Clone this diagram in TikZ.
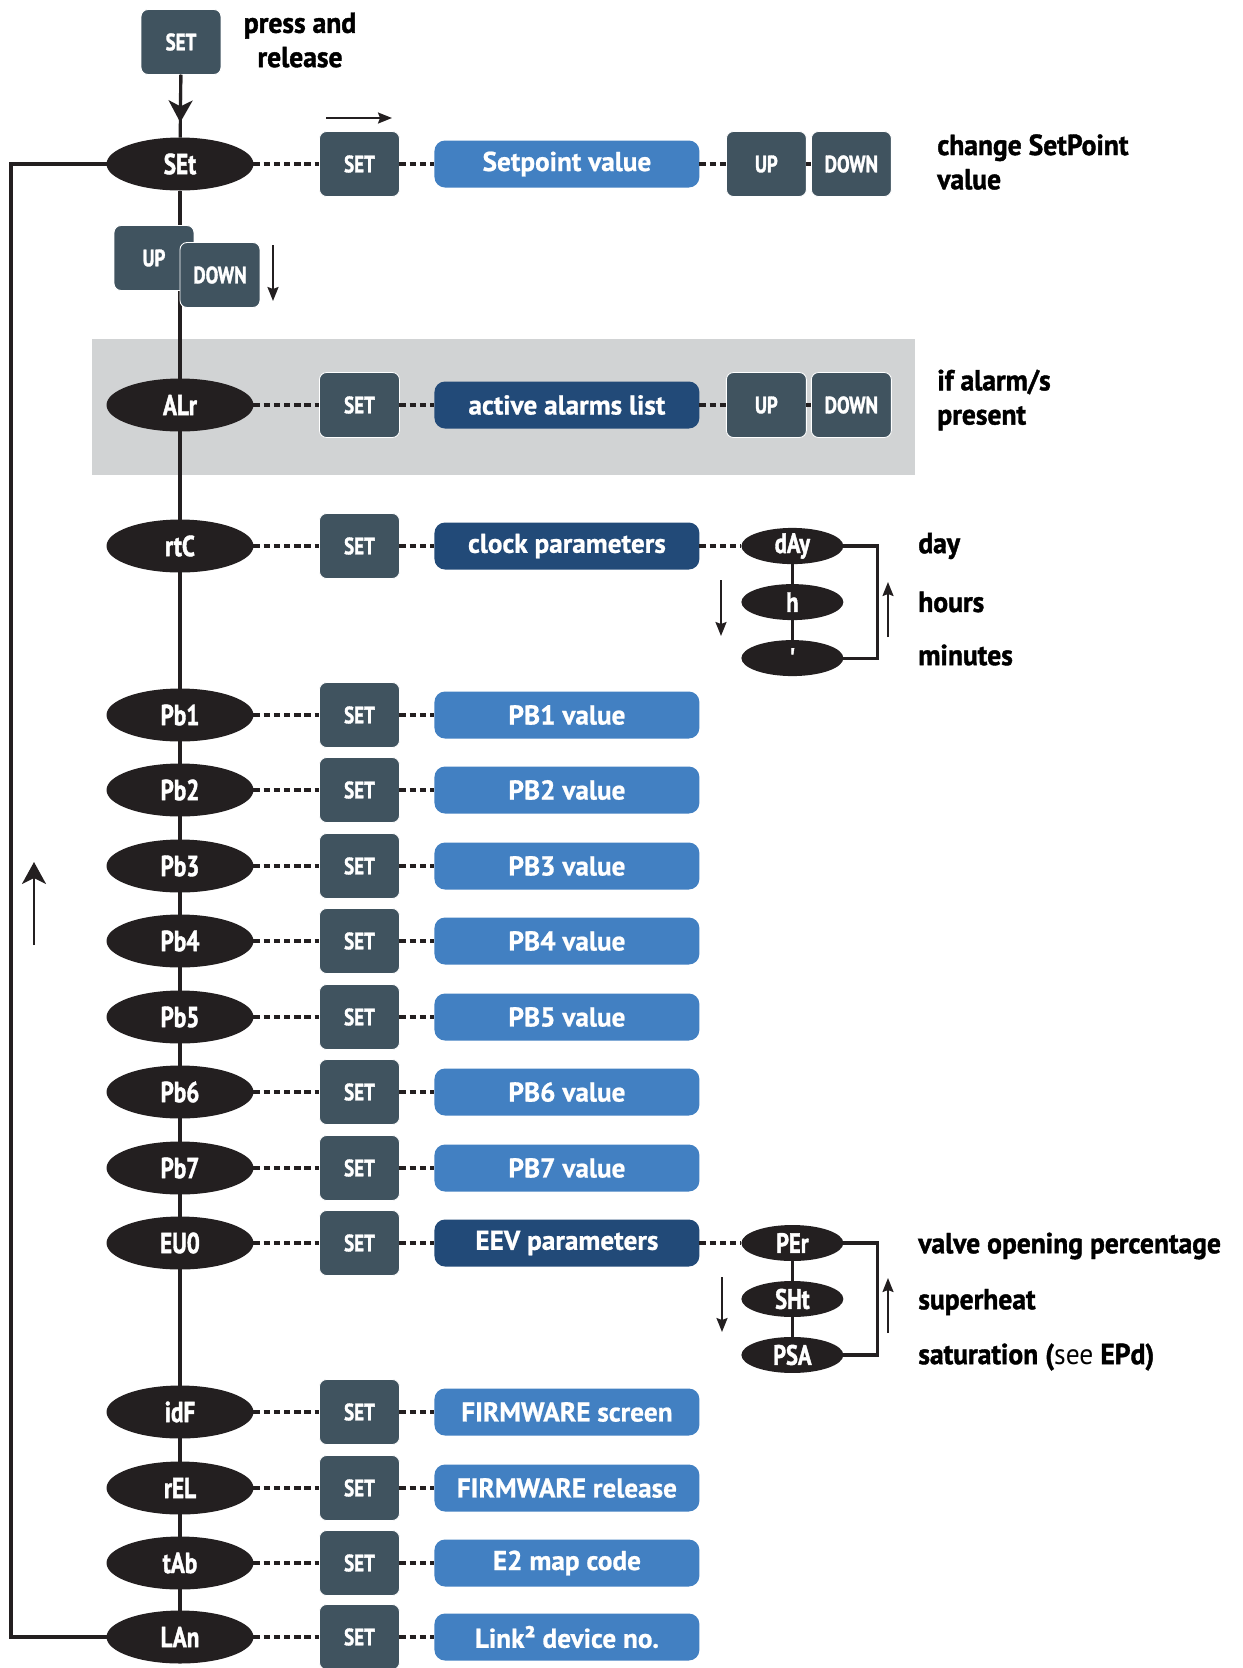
\documentclass[tikz,border=0pt]{standalone}
\usepackage{fontspec}
\setmainfont{PT Sans}
\newfontfamily\condf{PT Sans}[UprightFont=* Bold, FakeStretch=0.8, FakeBold=1.4]
\newfontfamily\notef{PT Sans}[UprightFont=* Bold, FakeStretch=0.95, FakeBold=1.4]
\newfontfamily\notelight{PT Sans}[FakeStretch=0.95]
\newfontfamily\valf{PT Sans}[UprightFont=* Bold, FakeBold=0.8]
\usetikzlibrary{arrows.meta,positioning,shapes.geometric,calc,backgrounds}
\definecolor{ink}{HTML}{231F20}
\definecolor{keygray}{HTML}{40535F}
\definecolor{valblue}{HTML}{4280C2}
\definecolor{valnavy}{HTML}{224A78}
\definecolor{band}{HTML}{D1D3D4}
\tikzset{
  menu/.style={ellipse, fill=ink, text=white, minimum width=2.94cm, minimum height=1.06cm,
               inner sep=0pt, outer sep=0pt, font=\condf\fontsize{16.5}{18}\selectfont},
  sub/.style={menu, minimum width=2.04cm, minimum height=0.72cm,
              font=\condf\fontsize{16}{18}\selectfont},
  keybtn/.style={draw=white, line width=0.5pt, rounded corners=4pt, fill=keygray, text=white,
                 minimum width=1.6cm, minimum height=1.3cm, inner sep=0pt, outer sep=0pt,
                 font=\condf\fontsize{13.5}{15}\selectfont},
  val/.style={rounded corners=6pt, fill=valblue, text=white, minimum width=5.3cm,
              minimum height=0.94cm, inner sep=0pt, outer sep=0pt,
              font=\valf\fontsize{15.5}{17}\selectfont},
  valdk/.style={val, fill=valnavy},
  note/.style={anchor=west, inner sep=0pt, align=left,
               font=\notef\fontsize{16.5}{19.5}\selectfont},
  dots/.style={draw=ink, line width=1.9pt, dash pattern=on 3.6pt off 2.2pt},
  link/.style={draw=ink, line width=1.8pt},
  hint/.style={draw=ink, line width=1.1pt, -{Stealth[length=2.8mm, width=2.2mm, inset=0.4mm]}},
  bighint/.style={draw=ink, line width=1.6pt, -{Stealth[length=4.4mm, width=4.8mm, inset=1.2mm]}}
}

\begin{document}
\begin{tikzpicture}[x=0.02cm, y=-0.02cm]
  \useasboundingbox (0,0) rectangle (1242,1668);

  %% entry
  \node[keybtn] (press) at (181,42) {SET};
  \node[note, anchor=center, align=center] (presstxt) at (300,40) {press and\\release};

  %% main menu column
  \node[menu] (set) at (180,164) {SEt};
  \node[menu] (alr) at (180,405) {ALr};
  \node[menu] (rtc) at (180,546) {rtC};
  \node[menu] (pb1) at (180,715) {Pb1};
  \node[menu] (pb2) at (180,790) {Pb2};
  \node[menu] (pb3) at (180,866) {Pb3};
  \node[menu] (pb4) at (180,941) {Pb4};
  \node[menu] (pb5) at (180,1017) {Pb5};
  \node[menu] (pb6) at (180,1092) {Pb6};
  \node[menu] (pb7) at (180,1168) {Pb7};
  \node[menu] (eu0) at (180,1243) {EU0};
  \node[menu] (idf) at (180,1412) {idF};
  \node[menu] (rel) at (180,1488) {rEL};
  \node[menu] (tab) at (180,1563) {tAb};
  \node[menu] (lan) at (180,1637) {LAn};

  \node[keybtn] (upm) at (154,258) {UP};
  \node[keybtn] (dnm) at (220,275) {DOWN};

  %% SEt row
  \node[keybtn, right=1.32cm of set] (kset) {SET};
  \node[val, right=0.7cm of kset] (vset) {Setpoint value};
  \node[keybtn, right=0.54cm of vset] (upset) {UP};
  \node[keybtn, right=0.1cm of upset] (dnset) {DOWN};
  \node[note] (chg) at (937,162) {change SetPoint\\value};

  %% ALr row
  \node[keybtn, right=1.32cm of alr] (kalr) {SET};
  \node[valdk, right=0.7cm of kalr] (valr) {active alarms list};
  \node[keybtn, right=0.54cm of valr] (upalr) {UP};
  \node[keybtn, right=0.1cm of upalr] (dnalr) {DOWN};
  \node[note] (alrtxt) at (937,400) {if alarm/s\\present};

  %% rtC row
  \node[keybtn, right=1.32cm of rtc] (krtc) {SET};
  \node[valdk, right=0.7cm of krtc] (vrtc) {clock parameters};
  \node[sub, right=0.84cm of vrtc] (day) {dAy};
  \node[sub, below=0.4cm of day] (hrs) {h};
  \node[sub, below=0.4cm of hrs] (mins) {'};
  \node[note] (daytxt) at (918,546) {day};
  \node[note] (hrstxt) at (918,602) {hours};
  \node[note] (minstxt) at (918,655) {minutes};

  %% probes
  \node[keybtn, right=1.32cm of pb1] (kpb1) {SET};
  \node[val, right=0.7cm of kpb1] (vpb1) {PB1 value};
  \node[keybtn, right=1.32cm of pb2] (kpb2) {SET};
  \node[val, right=0.7cm of kpb2] (vpb2) {PB2 value};
  \node[keybtn, right=1.32cm of pb3] (kpb3) {SET};
  \node[val, right=0.7cm of kpb3] (vpb3) {PB3 value};
  \node[keybtn, right=1.32cm of pb4] (kpb4) {SET};
  \node[val, right=0.7cm of kpb4] (vpb4) {PB4 value};
  \node[keybtn, right=1.32cm of pb5] (kpb5) {SET};
  \node[val, right=0.7cm of kpb5] (vpb5) {PB5 value};
  \node[keybtn, right=1.32cm of pb6] (kpb6) {SET};
  \node[val, right=0.7cm of kpb6] (vpb6) {PB6 value};
  \node[keybtn, right=1.32cm of pb7] (kpb7) {SET};
  \node[val, right=0.7cm of kpb7] (vpb7) {PB7 value};

  %% EU0 row
  \node[keybtn, right=1.32cm of eu0] (keu) {SET};
  \node[valdk, right=0.7cm of keu] (veu) {EEV parameters};
  \node[sub, right=0.84cm of veu] (per) {PEr};
  \node[sub, below=0.4cm of per] (sht) {SHt};
  \node[sub, below=0.4cm of sht] (psa) {PSA};
  \node[note] (pertxt) at (918,1246) {valve opening percentage};
  \node[note] (shttxt) at (918,1302) {superheat};
  \node[note] (psatxt) at (918,1357) {saturation ({\notelight see} EPd)};

  %% info rows
  \node[keybtn, right=1.32cm of idf] (kidf) {SET};
  \node[val, right=0.7cm of kidf] (vidf) {FIRMWARE screen};
  \node[keybtn, right=1.32cm of rel] (krel) {SET};
  \node[val, right=0.7cm of krel] (vrel) {FIRMWARE release};
  \node[keybtn, right=1.32cm of tab] (ktab) {SET};
  \node[val, right=0.7cm of ktab] (vtab) {E2 map code};
  \node[keybtn, right=1.32cm of lan] (klan) {SET};
  \node[val, right=0.7cm of klan] (vlan) {Link² device no.};

  %% band and spine behind
  \begin{scope}[on background layer]
    \fill[band] (92,339) rectangle (915,475);
    \draw[link] (set) -- (lan);
    \draw[link] (press) -- (set);
    \coordinate (back) at (11,1637);
    \draw[link] (lan.west) -- (back) |- (set.west);
  \end{scope}
  \draw[bighint] (press.south) -- ($(press.south)!0.76!(set.north)$);

  %% dotted links
  \draw[dots] (set) -- (kset);  \draw[dots] (kset) -- (vset);
  \draw[dots] (vset) -- (upset); \draw[dots] (upset) -- (dnset);
  \draw[dots] (alr) -- (kalr);  \draw[dots] (kalr) -- (valr);
  \draw[dots] (valr) -- (upalr); \draw[dots] (upalr) -- (dnalr);
  \draw[dots] (rtc) -- (krtc);  \draw[dots] (krtc) -- (vrtc); \draw[dots] (vrtc) -- (day);
  \draw[dots] (pb1) -- (kpb1);  \draw[dots] (kpb1) -- (vpb1);
  \draw[dots] (pb2) -- (kpb2);  \draw[dots] (kpb2) -- (vpb2);
  \draw[dots] (pb3) -- (kpb3);  \draw[dots] (kpb3) -- (vpb3);
  \draw[dots] (pb4) -- (kpb4);  \draw[dots] (kpb4) -- (vpb4);
  \draw[dots] (pb5) -- (kpb5);  \draw[dots] (kpb5) -- (vpb5);
  \draw[dots] (pb6) -- (kpb6);  \draw[dots] (kpb6) -- (vpb6);
  \draw[dots] (pb7) -- (kpb7);  \draw[dots] (kpb7) -- (vpb7);
  \draw[dots] (eu0) -- (keu);   \draw[dots] (keu) -- (veu);   \draw[dots] (veu) -- (per);
  \draw[dots] (idf) -- (kidf);  \draw[dots] (kidf) -- (vidf);
  \draw[dots] (rel) -- (krel);  \draw[dots] (krel) -- (vrel);
  \draw[dots] (tab) -- (ktab);  \draw[dots] (ktab) -- (vtab);
  \draw[dots] (lan) -- (klan);  \draw[dots] (klan) -- (vlan);

  %% sub-menu loops
  \draw[link] (day) -- (hrs) -- (mins);
  \draw[link] (day.east) -- ++(34,0) |- (mins.east);
  \draw[link] (per) -- (sht) -- (psa);
  \draw[link] (per.east) -- ++(34,0) |- (psa.east);

  %% direction arrows
  \draw[hint] (326,118) -- (392,118);
  \draw[hint] (273,245) -- (273,301);
  \draw[hint] (721,580) -- (721,636);
  \draw[hint] (888,637) -- (888,582);
  \draw[hint] (722,1277) -- (722,1332);
  \draw[hint] (888,1333) -- (888,1278);
  \draw[bighint] (34,945) -- (34,862);
\end{tikzpicture}
\end{document}
